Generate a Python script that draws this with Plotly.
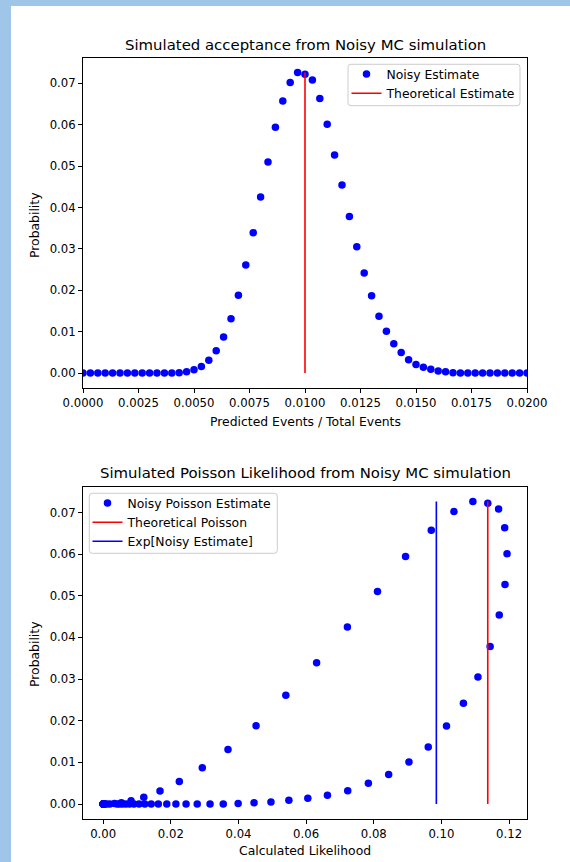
import plotly.graph_objects as go

# Acceptance grid (predicted events / total events)
acceptance = [
    0.0, 0.000333, 0.000667, 0.001, 0.001333, 0.001667, 0.002, 0.002333, 0.002667, 0.003,
    0.003333, 0.003667, 0.004, 0.004333, 0.004667, 0.005, 0.005333, 0.005667, 0.006, 0.006333,
    0.006667, 0.007, 0.007333, 0.007667, 0.008, 0.008333, 0.008667, 0.009, 0.009333, 0.009667,
    0.01, 0.010333, 0.010667, 0.011, 0.011333, 0.011667, 0.012, 0.012333, 0.012667, 0.013,
    0.013333, 0.013667, 0.014, 0.014333, 0.014667, 0.015, 0.015333, 0.015667, 0.016, 0.016333,
    0.016667, 0.017, 0.017333, 0.017667, 0.018, 0.018333, 0.018667, 0.019, 0.019333, 0.019667,
    0.02, 0.020333, 0.020667, 0.021, 0.021333, 0.021667, 0.022,
]

# Noisy MC probability of each acceptance value
probability = [
    0.0, 0.0, 0.0, 0.0, 0.0, 0.0, 0.0, 0.0, 0.0, 0.0,
    0.0, 0.0, 0.0, 0.0001, 0.0003, 0.0008, 0.0016, 0.0031, 0.0054, 0.0087,
    0.0131, 0.0188, 0.0261, 0.0339, 0.0425, 0.0510, 0.0594, 0.0657, 0.0702, 0.0726,
    0.0722, 0.0708, 0.0663, 0.0601, 0.0527, 0.0454, 0.0378, 0.0305, 0.0242, 0.0187,
    0.0137, 0.0101, 0.0071, 0.0050, 0.0032, 0.0021, 0.0014, 0.0009, 0.0005, 0.0003,
    0.0001, 0.0, 0.0, 0.0, 0.0, 0.0, 0.0, 0.0, 0.0, 0.0,
    0.0, 0.0, 0.0, 0.0, 0.0, 0.0, 0.0,
]

# Poisson likelihood evaluated at each acceptance value
likelihood = [
    0.0, 0.0, 0.0, 0.0, 0.0, 0.000001, 0.000007, 0.000027, 0.000084, 0.00022,
    0.0005, 0.00103, 0.00193, 0.00332, 0.00538, 0.00824, 0.0120, 0.0168, 0.0225, 0.0293,
    0.0369, 0.0452, 0.0540, 0.0631, 0.0722, 0.0811, 0.0894, 0.0970, 0.1037, 0.1093,
    0.1137, 0.1169, 0.1187, 0.1194, 0.1188, 0.1171, 0.1144, 0.1108, 0.1065, 0.1015,
    0.0961, 0.0904, 0.0844, 0.0784, 0.0723, 0.0663, 0.0605, 0.0549, 0.0496, 0.0446,
    0.0399, 0.0355, 0.0316, 0.0278, 0.0245, 0.0215, 0.0188, 0.0163, 0.0142, 0.0123,
    0.0106, 0.0091, 0.0078, 0.0067, 0.0057, 0.0048, 0.0041,
]

theoretical_acceptance = 0.01
theoretical_poisson = 0.1137
expected_noisy_likelihood = 0.0985

top_xticks = [0.0, 0.0025, 0.005, 0.0075, 0.01, 0.0125, 0.015, 0.0175, 0.02]
bottom_xticks = [0.0, 0.02, 0.04, 0.06, 0.08, 0.10, 0.12]
prob_ticks = [0.0, 0.01, 0.02, 0.03, 0.04, 0.05, 0.06, 0.07]

W, H = 570, 862
FONT = "DejaVu Sans"
TICK_SIZE = 11.7
LABEL_SIZE = 12.4
TITLE_SIZE = 14.9
DOT = "#0000ff"
RED = "#ff0000"
BLUE = "#0000ff"

peak = max(probability)


def px_x(v):
    return v / W


def px_y(v):
    return 1 - v / H


def rounded_box(x0, y0, x1, y1, r=3):
    """SVG path (paper coords) for a rounded rectangle given in pixels."""
    pts = lambda x, y: f"{px_x(x):.5f},{px_y(y):.5f}"
    return (
        f"M {pts(x0 + r, y0)} L {pts(x1 - r, y0)} Q {pts(x1, y0)} {pts(x1, y0 + r)} "
        f"L {pts(x1, y1 - r)} Q {pts(x1, y1)} {pts(x1 - r, y1)} "
        f"L {pts(x0 + r, y1)} Q {pts(x0, y1)} {pts(x0, y1 - r)} "
        f"L {pts(x0, y0 + r)} Q {pts(x0, y0)} {pts(x0 + r, y0)} Z"
    )


fig = go.Figure()

# --- top panel: noisy acceptance distribution ---
fig.add_trace(go.Scatter(
    x=acceptance, y=probability, mode="markers", name="Noisy Estimate",
    marker=dict(color=DOT, size=7.5, line=dict(width=0)),
    xaxis="x", yaxis="y", legend="legend",
))
fig.add_trace(go.Scatter(
    x=[theoretical_acceptance, theoretical_acceptance], y=[0, peak], mode="lines",
    name="Theoretical Estimate", line=dict(color=RED, width=1.6),
    xaxis="x", yaxis="y", legend="legend",
))

# --- bottom panel: Poisson likelihood ---
fig.add_trace(go.Scatter(
    x=likelihood, y=probability, mode="markers", name="Noisy Poisson Estimate",
    marker=dict(color=DOT, size=7.5, line=dict(width=0)),
    xaxis="x2", yaxis="y2", legend="legend2",
))
fig.add_trace(go.Scatter(
    x=[theoretical_poisson, theoretical_poisson], y=[0, peak], mode="lines",
    name="Theoretical Poisson", line=dict(color=RED, width=1.6),
    xaxis="x2", yaxis="y2", legend="legend2",
))
fig.add_trace(go.Scatter(
    x=[expected_noisy_likelihood, expected_noisy_likelihood], y=[0, peak], mode="lines",
    name="Exp[Noisy Estimate]", line=dict(color=BLUE, width=1.6),
    xaxis="x2", yaxis="y2", legend="legend2",
))

axis_common = dict(
    showline=True, linecolor="black", linewidth=1, mirror=True,
    ticks="outside", ticklen=4, tickwidth=1, tickcolor="black",
    showgrid=False, zeroline=False, automargin=False,
    tickfont=dict(family=FONT, size=TICK_SIZE, color="black"),
)

x_dom = [px_x(83), px_x(527)]
y_range = [-0.0036, 0.0761]

legend_common = dict(
    xanchor="left", yanchor="top",
    bgcolor="rgba(0,0,0,0)", borderwidth=0,
    font=dict(family=FONT, size=LABEL_SIZE, color="black"),
    tracegroupgap=0,
)

fig.update_layout(
    width=W, height=H,
    margin=dict(l=0, r=0, t=0, b=0, autoexpand=False),
    paper_bgcolor="white", plot_bgcolor="white",
    font=dict(family=FONT, color="black"),
    xaxis=dict(domain=x_dom, range=[0, 0.02], tickvals=top_xticks,
               tickformat=".4f", anchor="y", **axis_common),
    yaxis=dict(domain=[px_y(388), px_y(58)], range=y_range, tickvals=prob_ticks,
               tickformat=".2f", anchor="x", **axis_common),
    xaxis2=dict(domain=x_dom, range=[-0.00597, 0.1253], tickvals=bottom_xticks,
                tickformat=".2f", anchor="y2", **axis_common),
    yaxis2=dict(domain=[px_y(819), px_y(487)], range=y_range, tickvals=prob_ticks,
                tickformat=".2f", anchor="x2", **axis_common),
    legend=dict(x=px_x(346.5), y=px_y(59.5), **legend_common),
    legend2=dict(x=px_x(87.5), y=px_y(488.5), **legend_common),
    showlegend=True,
)

# Legend frames
for box in [(348, 64.3, 520, 105.7), (89.3, 493.3, 277.3, 553.3)]:
    fig.add_shape(type="path", xref="paper", yref="paper", path=rounded_box(*box),
                  fillcolor="rgba(255,255,255,0.8)", line=dict(color="#cccccc", width=1),
                  layer="above")

# Page frame strips
fig.add_shape(type="rect", xref="paper", yref="paper", x0=0, x1=px_x(11), y0=0, y1=1,
              fillcolor="#9fc5e8", line=dict(width=0), layer="below")
fig.add_shape(type="rect", xref="paper", yref="paper", x0=0, x1=1, y0=px_y(6), y1=1,
              fillcolor="#9fc5e8", line=dict(width=0), layer="below")

# Titles and axis labels
texts = [
    ("Simulated acceptance from Noisy MC simulation", 305, 45, TITLE_SIZE, 0),
    ("Simulated Poisson Likelihood from Noisy MC simulation", 305, 473, TITLE_SIZE, 0),
    ("Predicted Events / Total Events", 305, 421, LABEL_SIZE, 0),
    ("Calculated Likelihood", 305, 850, LABEL_SIZE, 0),
    ("Probability", 34, 225, LABEL_SIZE, -90),
    ("Probability", 34, 654, LABEL_SIZE, -90),
]
for text, tx, ty, size, angle in texts:
    fig.add_annotation(
        text=text, x=px_x(tx), y=px_y(ty), xref="paper", yref="paper",
        xanchor="center", yanchor="middle", showarrow=False, textangle=angle,
        font=dict(family=FONT, size=size, color="black"),
    )

fig.write_html("out.html")
